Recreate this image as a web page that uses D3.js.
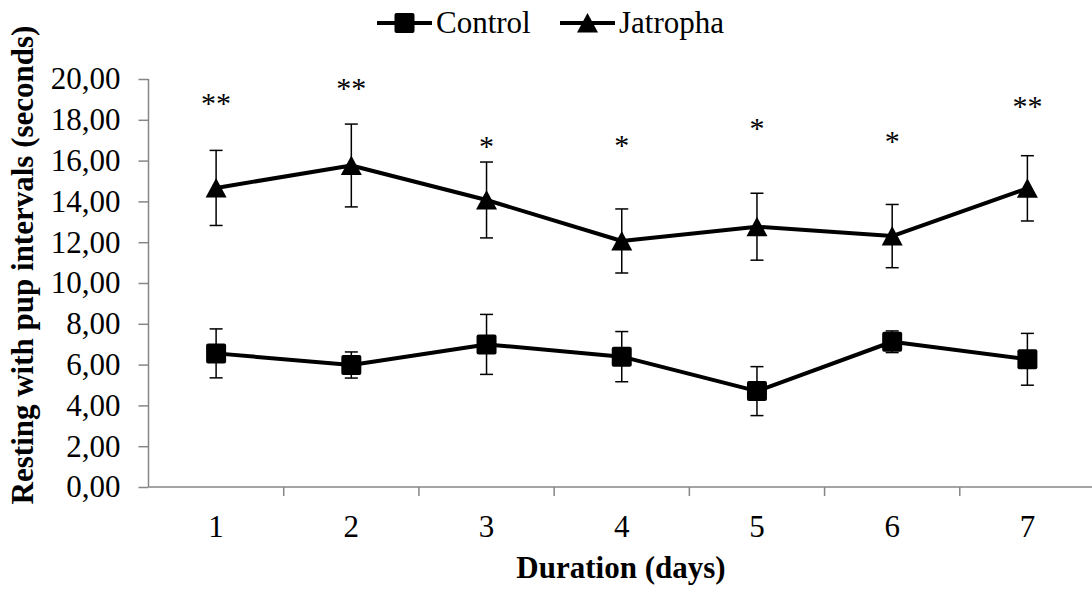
<!DOCTYPE html>
<html>
  <head>
    <meta charset="utf-8">
    <title>Resting with pup intervals</title>
    <script src="https://d3js.org/d3.v7.min.js"></script>
    <style>
      body { margin: 0; background: #fff; }
      svg text { font-family: "Liberation Serif", Tinos, "DejaVu Serif", serif; fill: #000; }
      .tick text { font-size: 31px; }
      .axis path, .axis line { stroke: #868686; stroke-width: 1.5px; }
      .title { font-weight: bold; font-size: 31px; }
      .series { fill: none; stroke: #000; stroke-width: 4px; stroke-linejoin: round; }
      .err { stroke: #000; stroke-width: 1.5px; }
      .star { font-size: 30px; text-anchor: middle; }
      .legend text { font-size: 31px; }
    </style>
  </head>
  <body>
    <svg id="chart" width="1092" height="590"></svg>
    <script>
      // data
      days = ["1", "2", "3", "4", "5", "6", "7"];
      control = [6.55, 5.98, 6.99, 6.39, 4.70, 7.12, 6.26];
      controlErr = [1.20, 0.64, 1.47, 1.23, 1.20, 0.53, 1.27];
      jatropha = [14.66, 15.76, 14.07, 12.06, 12.76, 12.30, 14.64];
      jatrophaErr = [1.84, 2.03, 1.86, 1.57, 1.64, 1.55, 1.60];
      stars = ["**", "**", "*", "*", "*", "*", "**"];
      starLevel = [19.09, 19.80, 16.94, 17.00, 17.86, 17.20, 18.94];
      yTicks = [0, 2, 4, 6, 8, 10, 12, 14, 16, 18, 20];

      chart = d3.select("#chart");

      // scales
      x = d3.scaleBand()
        .domain(days)
        .range([148.5, 1095]);
      y = d3.scaleLinear()
        .domain([0, 20])
        .range([487, 79]);
      cx = function(d) { return x(d) + x.bandwidth() / 2; };

      // axes
      yAxis = chart.append("g")
        .attr("class", "axis")
        .attr("transform", "translate(148.5,0)")
        .call(d3.axisLeft(y).tickValues(yTicks).tickSize(10).tickPadding(18)
          .tickFormat(function(d) { return d3.format(".2f")(d).replace(".", ","); }));
      xAxis = chart.append("g")
        .attr("class", "axis")
        .attr("transform", "translate(0,487)")
        .call(d3.axisBottom(x).tickSize(0).tickPadding(28));
      xAxis.select(".domain").remove();
      xAxis.append("line")
        .attr("x1", 148.5).attr("x2", 1092);
      // ticks between categories
      xAxis.selectAll(".sep")
        .data(days.slice(1))
        .enter().append("line")
          .attr("class", "sep")
          .attr("x1", function(d) { return x(d); })
          .attr("x2", function(d) { return x(d); })
          .attr("y1", 0)
          .attr("y2", 9);
      yAxis.select(".domain").attr("d", "M0," + y(20) + "V" + y(0));
      chart.selectAll(".axis").attr("font-family", null);
      chart.selectAll(".tick text").attr("fill", "#000");

      // titles
      chart.append("text")
        .attr("class", "title")
        .attr("x", 621)
        .attr("y", 578)
        .attr("text-anchor", "middle")
        .text("Duration (days)");
      chart.append("text")
        .attr("class", "title")
        .attr("transform", "translate(33,265) rotate(-90)")
        .attr("text-anchor", "middle")
        .text("Resting with pup intervals (seconds)");

      series = [
        { name: "Control", vals: control, errs: controlErr, shape: "square" },
        { name: "Jatropha", vals: jatropha, errs: jatrophaErr, shape: "triangle" }
      ];

      function marker(g, shape) {
        if (shape == "square") {
          g.append("rect")
            .attr("x", -10).attr("y", -10)
            .attr("width", 20).attr("height", 20)
            .attr("rx", 2).attr("fill", "#000");
        } else {
          g.append("path")
            .attr("d", "M0,-10L10.5,9.5L-10.5,9.5Z")
            .attr("fill", "#000");
        }
      }

      line = d3.line()
        .x(function(d, i) { return cx(days[i]); })
        .y(function(d) { return y(d); });

      series.forEach(function(s) {
        g = chart.append("g");
        // error bars
        days.forEach(function(d, i) {
          var top = y(s.vals[i] + s.errs[i]), bot = y(s.vals[i] - s.errs[i]);
          g.append("line").attr("class", "err")
            .attr("x1", cx(d)).attr("x2", cx(d)).attr("y1", top).attr("y2", bot);
          g.append("line").attr("class", "err")
            .attr("x1", cx(d) - 6.5).attr("x2", cx(d) + 6.5).attr("y1", top).attr("y2", top);
          g.append("line").attr("class", "err")
            .attr("x1", cx(d) - 6.5).attr("x2", cx(d) + 6.5).attr("y1", bot).attr("y2", bot);
        });
        g.append("path")
          .datum(s.vals)
          .attr("class", "series")
          .attr("d", line);
        g.selectAll(".pt")
          .data(s.vals)
          .enter().append("g")
            .attr("class", "pt")
            .attr("transform", function(d, i) { return "translate(" + cx(days[i]) + "," + y(d) + ")"; })
            .each(function() { marker(d3.select(this), s.shape); });
      });

      // significance marks
      chart.selectAll(".star")
        .data(stars)
        .enter().append("text")
          .attr("class", "star")
          .attr("x", function(d, i) { return cx(days[i]); })
          .attr("y", function(d, i) { return y(starLevel[i]) + 15; })
          .text(function(d) { return d; });

      // legend
      legend = chart.append("g").attr("class", "legend");
      legendPos = [377, 560];
      series.forEach(function(s, i) {
        var lg = legend.append("g").attr("transform", "translate(" + legendPos[i] + ",23)");
        lg.append("line")
          .attr("x1", 0).attr("x2", 55)
          .attr("stroke", "#000").attr("stroke-width", 4);
        var m = lg.append("g").attr("transform", "translate(27.5,0)");
        marker(m, s.shape);
        lg.append("text")
          .attr("x", 59)
          .attr("y", 10)
          .text(s.name);
      });
    </script>
  </body>
</html>
